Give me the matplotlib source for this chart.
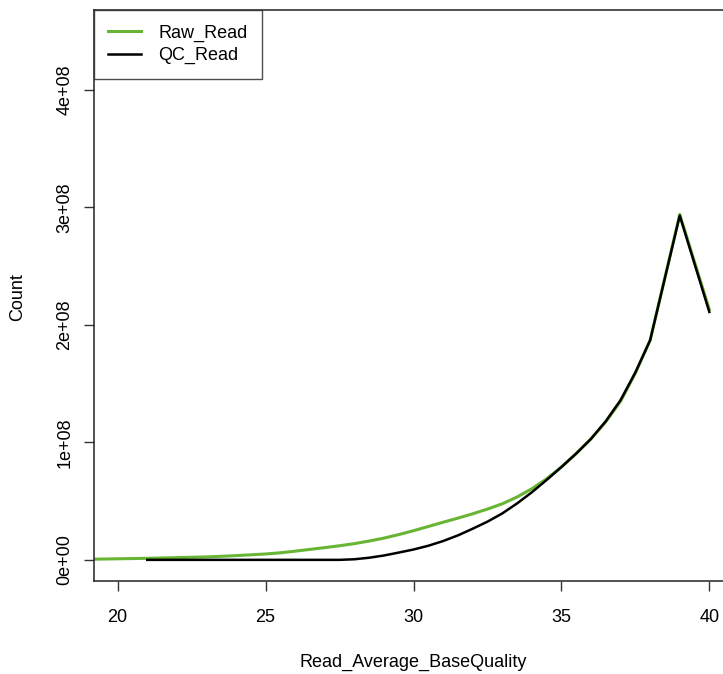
import matplotlib
matplotlib.use("Agg")
import matplotlib.pyplot as plt
from matplotlib.lines import Line2D

plt.rcParams['font.family'] = ['Liberation Sans', 'DejaVu Sans']

# Raw reads: quality vs count (x1e8)
raw_quality = [19, 19.5, 20, 20.5, 21, 21.5, 22, 22.5, 23, 23.5, 24, 24.5, 25, 25.5,
               26, 26.5, 27, 27.5, 28, 28.5, 29, 29.5, 30, 30.5, 31, 31.5, 32, 32.5,
               33, 33.5, 34, 34.5, 35, 35.5, 36, 36.5, 37, 37.5, 38, 39, 40]
raw_count = [0.005, 0.007, 0.009, 0.011, 0.013, 0.016, 0.019, 0.022, 0.025, 0.030,
             0.036, 0.043, 0.050, 0.060, 0.074, 0.089, 0.104, 0.120, 0.138, 0.160,
             0.185, 0.215, 0.248, 0.284, 0.320, 0.355, 0.392, 0.432, 0.477, 0.535,
             0.605, 0.690, 0.790, 0.905, 1.030, 1.175, 1.350, 1.590, 1.870, 2.940, 2.130]

qc_quality = [21, 21.5, 22, 22.5, 23, 23.5, 24, 24.5, 25, 25.5, 26, 26.5, 27, 27.5,
              28, 28.5, 29, 29.5, 30, 30.5, 31, 31.5, 32, 32.5, 33, 33.5, 34, 34.5,
              35, 35.5, 36, 36.5, 37, 37.5, 38, 39, 40]
qc_count = [0, 0, 0, 0, 0, 0, 0, 0, 0, 0, 0, 0, 0, 0,
            0.005, 0.018, 0.037, 0.062, 0.088, 0.120, 0.160, 0.208, 0.265, 0.325,
            0.395, 0.480, 0.575, 0.680, 0.790, 0.905, 1.030, 1.180, 1.360, 1.595,
            1.870, 2.930, 2.110]

x_ticks = [20, 25, 30, 35, 40]
y_ticks = [0, 1e8, 2e8, 3e8, 4e8]
y_tick_labels = ["0e+00", "1e+08", "2e+08", "3e+08", "4e+08"]
series_names = ["Raw_Read", "QC_Read"]
series_colors = ["#68B534", "#000000"]

W, H = 723, 674
fig = plt.figure(figsize=(W / 100, H / 100), dpi=100)
left, right, top, bottom = 94, 733, 10, 581
ax = fig.add_axes([left / W, (H - bottom) / H, (right - left) / W, (bottom - top) / H])

ax.plot(raw_quality, [v * 1e8 for v in raw_count], color=series_colors[0], lw=2.2,
        solid_joinstyle='round')
ax.plot(qc_quality, [v * 1e8 for v in qc_count], color=series_colors[1], lw=1.8,
        solid_joinstyle='round')

ax.set_xlim(19.2, 40.8)
ax.set_ylim(-0.18e8, 4.68e8)
ax.set_xticks(x_ticks)
ax.set_xticklabels([str(t) for t in x_ticks])
ax.set_yticks(y_ticks)
ax.set_yticklabels(y_tick_labels, rotation=90, va='center')
ax.tick_params(axis='both', direction='out', length=7, width=1, labelsize=13,
               color='#333333')
ax.tick_params(axis='x', pad=13)
ax.tick_params(axis='y', pad=8)
for s in ax.spines.values():
    s.set_linewidth(1.1)
    s.set_color('#222222')

ax.set_xlabel("Read_Average_BaseQuality", fontsize=13, labelpad=20)
fig.text(18 / W, 1 - 297 / H, "Count", rotation=90, fontsize=13, ha='center', va='center')

handles = [Line2D([], [], color=series_colors[0], lw=2.2),
           Line2D([], [], color=series_colors[1], lw=1.8)]
leg = ax.legend(handles, series_names, loc='upper left', fontsize=13, frameon=True,
                fancybox=False, borderaxespad=0, handlelength=1.8, handletextpad=0.95,
                labelspacing=0.3, borderpad=0.8)
leg.get_frame().set_edgecolor('#222222')
leg.get_frame().set_linewidth(1.0)

fig.savefig("out.png", dpi=100)
